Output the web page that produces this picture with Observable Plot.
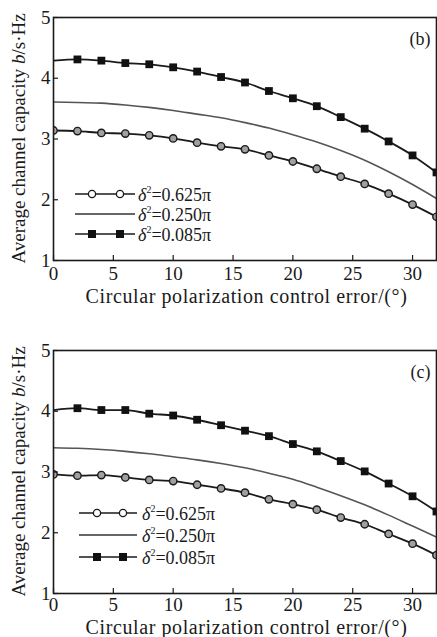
<!DOCTYPE html>
<html>
<head>
<meta charset="utf-8">
<script src="https://cdn.jsdelivr.net/npm/d3@7"></script>
<script src="https://cdn.jsdelivr.net/npm/@observablehq/plot@0.6"></script>
<style>
  html, body { margin: 0; padding: 0; background: #fff; }
  #root { width: 437px; }
  #root svg { display: block; overflow: visible; }
</style>
</head>
<body>
<div id="root"></div>
<script>
// ---- data ----
const xValues = [0, 2, 4, 6, 8, 10, 12, 14, 16, 18, 20, 22, 24, 26, 28, 30, 32];
const xTicks = [0, 5, 10, 15, 20, 25, 30];
const yTicks = [1, 2, 3, 4, 5];
const seriesLabels = ["0.625", "0.250", "0.085"];

// panel (b)
const b_circle = [3.14, 3.13, 3.10, 3.09, 3.06, 3.01, 2.94, 2.88, 2.83, 2.73, 2.63, 2.51, 2.38, 2.26, 2.10, 1.92, 1.72];
const b_middle = [3.61, 3.60, 3.59, 3.56, 3.52, 3.47, 3.41, 3.35, 3.27, 3.18, 3.07, 2.95, 2.81, 2.65, 2.46, 2.25, 2.02];
const b_square = [4.29, 4.31, 4.29, 4.25, 4.23, 4.18, 4.11, 4.02, 3.93, 3.79, 3.67, 3.54, 3.36, 3.17, 2.96, 2.73, 2.45];

// panel (c)
const c_circle = [2.96, 2.94, 2.95, 2.91, 2.87, 2.85, 2.79, 2.73, 2.66, 2.55, 2.47, 2.38, 2.25, 2.14, 1.98, 1.82, 1.63];
const c_middle = [3.40, 3.39, 3.37, 3.34, 3.30, 3.25, 3.20, 3.14, 3.07, 2.98, 2.88, 2.75, 2.61, 2.46, 2.29, 2.11, 1.93];
const c_square = [4.02, 4.05, 4.02, 4.02, 3.96, 3.93, 3.86, 3.77, 3.68, 3.59, 3.46, 3.34, 3.18, 3.01, 2.81, 2.60, 2.35];

const FONT = "'Liberation Serif', 'Times New Roman', serif";
const INK = "#1a1a1a";

function toRows(vals) { return xValues.map((x, i) => ({x, y: vals[i]})); }

function drawPanel(cfg) {
  const circ = toRows(cfg.circle), mid = toRows(cfg.middle), sq = toRows(cfg.square);
  const sqMarkers = sq.filter(d => d.x > 0);
  const chart = Plot.plot({
    width: 437,
    height: cfg.height,
    marginTop: cfg.marginTop,
    marginBottom: cfg.marginBottom,
    marginLeft: 53,
    marginRight: 1,
    style: {fontFamily: FONT, color: INK, background: "#fff"},
    x: {domain: [0, 32]},
    y: {domain: [1, 5]},
    marks: [
      Plot.line(mid, {x: "x", y: "y", stroke: "#555", strokeWidth: 1.6, curve: "monotone-x", clip: true}),
      Plot.line(circ, {x: "x", y: "y", stroke: INK, strokeWidth: 1.8, curve: "monotone-x", clip: true}),
      Plot.line(sq, {x: "x", y: "y", stroke: INK, strokeWidth: 1.8, curve: "monotone-x", clip: true}),
      Plot.dot(circ, {x: "x", y: "y", r: 3.7, fill: "#a0a0a0", stroke: INK, strokeWidth: 1.4, clip: true}),
      Plot.dot(sqMarkers, {x: "x", y: "y", symbol: "square", r: 4.4, fill: "#111", stroke: "none", clip: true}),
      Plot.axisX({ticks: xTicks, tickSize: -5, tickFormat: () => "", stroke: INK, strokeWidth: 1.2, label: null}),
      Plot.axisX({ticks: xTicks, tickSize: 0, tickPadding: cfg.xTickPad, tickFormat: d => String(d), fontSize: 19, label: null, fill: INK}),
      Plot.axisY({ticks: yTicks, tickSize: -5, tickFormat: () => "", stroke: INK, strokeWidth: 1.2, label: null}),
      Plot.axisY({ticks: yTicks, tickSize: 0, tickPadding: 3, tickFormat: d => String(d), fontSize: 19, label: null, fill: INK}),
      Plot.frame({stroke: INK, strokeWidth: 1.6}),
      Plot.text([cfg.tag], {frameAnchor: "top-right", dx: -6, dy: 15, text: d => d, fontSize: 18, textAnchor: "end", fill: INK})
    ]
  });

  const svg = d3.select(chart);
  const xs = chart.scale("x"), ys = chart.scale("y");
  const left = xs.apply(0), right = xs.apply(32);
  const top = ys.apply(5), bottom = ys.apply(1);

  // x-axis title
  svg.append("text")
    .attr("x", (left + right) / 2 + 2)
    .attr("y", bottom + cfg.xTitleOffset)
    .attr("text-anchor", "middle")
    .attr("font-family", FONT)
    .attr("font-size", 20)
    .attr("letter-spacing", "0.6px")
    .attr("fill", INK)
    .text("Circular polarization control error/(°)");

  // y-axis title with italic b
  const yt = svg.append("text")
    .attr("transform", `translate(${18},${(top + bottom) / 2 + cfg.yTitleShift}) rotate(-90)`)
    .attr("text-anchor", "middle")
    .attr("dy", "0.35em")
    .attr("font-family", FONT)
    .attr("font-size", 19)
    .attr("fill", INK);
  yt.append("tspan").text("Average channel capacity ");
  yt.append("tspan").attr("font-style", "italic").text("b");
  yt.append("tspan").text("/s·Hz");

  // legend
  const lg = svg.append("g").attr("transform", `translate(${left},${top})`);
  const L = cfg.legend;
  seriesLabels.forEach((lab, i) => {
    const yy = L.rows[i];
    const g = lg.append("g");
    g.append("line").attr("x1", L.x1).attr("x2", L.x2).attr("y1", yy).attr("y2", yy)
      .attr("stroke", i === 1 ? "#333" : INK).attr("stroke-width", i === 1 ? 1.4 : 1.6);
    L.markers.forEach(mx => {
      if (i === 0) {
        g.append("circle").attr("cx", mx).attr("cy", yy).attr("r", 3.6)
          .attr("fill", "#fff").attr("stroke", INK).attr("stroke-width", 1.3);
      } else if (i === 2) {
        g.append("rect").attr("x", mx - 4).attr("y", yy - 4).attr("width", 8).attr("height", 8)
          .attr("fill", "#111");
      }
    });
    const t = g.append("text").attr("x", L.tx).attr("y", yy + 6.5)
      .attr("text-anchor", "start")
      .attr("font-family", FONT).attr("font-size", 18).attr("fill", INK);
    t.append("tspan").attr("font-style", "italic").text("δ");
    t.append("tspan").attr("font-size", 10).attr("dy", -8).text("2");
    t.append("tspan").attr("dy", 8).text("=" + lab + "π");
  });

  document.getElementById("root").appendChild(chart);
}

drawPanel({
  tag: "(b)", height: 320, marginTop: 17, marginBottom: 60, xTickPad: 6,
  xTitleOffset: 43, yTitleShift: 0,
  circle: b_circle, middle: b_middle, square: b_square,
  legend: {rows: [177, 197, 217], x1: 22, x2: 82, markers: [39, 67], tx: 85}
});
drawPanel({
  tag: "(c)", height: 317, marginTop: 30, marginBottom: 44, xTickPad: 4,
  xTitleOffset: 41, yTitleShift: 0,
  circle: c_circle, middle: c_middle, square: c_square,
  legend: {rows: [163, 185, 207], x1: 26, x2: 84, markers: [44, 70], tx: 89}
});
</script>
</body>
</html>
